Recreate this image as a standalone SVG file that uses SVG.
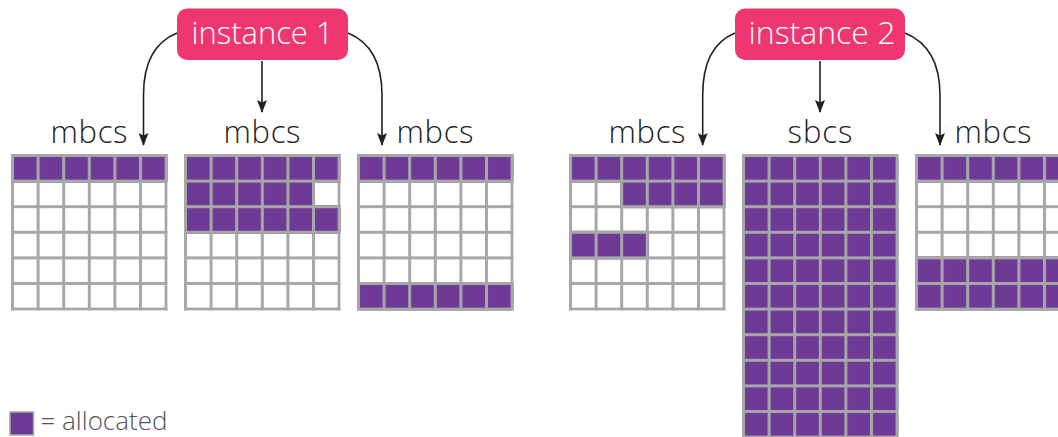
<svg xmlns="http://www.w3.org/2000/svg" width="1058" height="437" viewBox="0 0 1058 437">
<style>
.lbl{font-family:"Open Sans","Liberation Sans",sans-serif;font-weight:300;font-size:31px;fill:#231f20;text-anchor:middle}
.inst{font-family:"Open Sans","Liberation Sans",sans-serif;font-weight:300;font-size:32px;fill:#ffffff;text-anchor:middle}
.box{fill:#ee3670}
.conn{fill:none;stroke:#231f20;stroke-width:1.6}
.leg{font-family:"Open Sans","Liberation Sans",sans-serif;font-weight:300;font-size:26px;fill:#555555}
</style>
<defs>
<pattern id="wc" patternUnits="userSpaceOnUse" width="25.6" height="25.6">
<rect width="25.6" height="25.6" fill="#a7a7a7"/>
<rect x="3" y="3" width="22.6" height="22.6" fill="#ffffff"/>
</pattern>
<pattern id="pc" patternUnits="userSpaceOnUse" width="25.6" height="25.6">
<rect width="25.6" height="25.6" fill="#a7a7a7"/>
<rect x="3" y="3" width="22.6" height="22.6" fill="#6e3a96"/>
</pattern>
<marker id="ah" viewBox="0 0 13 10" refX="12" refY="5" markerWidth="13" markerHeight="10" markerUnits="userSpaceOnUse" orient="auto">
<path d="M0,0 L13,5 L0,10 L2.5,5 Z" fill="#231f20"/>
</marker>
</defs>

<g id="connectors">
<path class="conn" d="M177,33 C155,42 143.5,62 143.5,95 L143.5,145" marker-end="url(#ah)"/>
<path class="conn" d="M262,61 L262,112" marker-end="url(#ah)"/>
<path class="conn" d="M348,33 C370,42 382,62 382,95 L382,145" marker-end="url(#ah)"/>
<path class="conn" d="M735,33 C713,42 702.7,62 702.7,95 L702.7,145" marker-end="url(#ah)"/>
<path class="conn" d="M820,61 L820,112" marker-end="url(#ah)"/>
<path class="conn" d="M905,33 C927,42 940,62 940,95 L940,145" marker-end="url(#ah)"/>
</g>

<g id="instance1">
<rect class="box" x="177" y="8.5" width="171" height="51.5" rx="10"/>
<text class="inst" x="262.5" y="43.5" textLength="142" lengthAdjust="spacingAndGlyphs">instance 1</text>
</g>
<g id="instance2">
<rect class="box" x="735" y="8.5" width="170" height="51.5" rx="10"/>
<text class="inst" x="822" y="43.5" textLength="147" lengthAdjust="spacingAndGlyphs">instance 2</text>
</g>

<g id="grid1">
<text class="lbl" x="89" y="142.7" textLength="77" lengthAdjust="spacing">mbcs</text>
<g transform="translate(11,154)">
<rect width="156.6" height="156.6" fill="url(#wc)"/>
<rect width="156.6" height="28.6" fill="url(#pc)"/>
</g>
</g>

<g id="grid2">
<text class="lbl" x="262" y="142.7" textLength="77" lengthAdjust="spacing">mbcs</text>
<g transform="translate(184,154)">
<rect width="156.6" height="156.6" fill="url(#wc)"/>
<rect width="156.6" height="28.6" fill="url(#pc)"/>
<rect y="25.6" width="131" height="28.6" fill="url(#pc)"/>
<rect y="51.2" width="156.6" height="28.6" fill="url(#pc)"/>
</g>
</g>

<g id="grid3">
<text class="lbl" x="435" y="142.7" textLength="77" lengthAdjust="spacing">mbcs</text>
<g transform="translate(357,154)">
<rect width="156.6" height="156.6" fill="url(#wc)"/>
<rect width="156.6" height="28.6" fill="url(#pc)"/>
<rect y="128" width="156.6" height="28.6" fill="url(#pc)"/>
</g>
</g>

<g id="grid4">
<text class="lbl" x="647" y="142.7" textLength="77" lengthAdjust="spacing">mbcs</text>
<g transform="translate(569,154)">
<rect width="156.6" height="156.6" fill="url(#wc)"/>
<rect width="156.6" height="28.6" fill="url(#pc)"/>
<rect x="51.2" y="25.6" width="105.4" height="28.6" fill="url(#pc)"/>
<rect y="76.8" width="79.8" height="28.6" fill="url(#pc)"/>
</g>
</g>

<g id="grid5">
<text class="lbl" x="820" y="142.7" textLength="65" lengthAdjust="spacing">sbcs</text>
<g transform="translate(742,154)">
<rect width="156.6" height="284.6" fill="url(#pc)"/>
</g>
</g>

<g id="grid6">
<text class="lbl" x="993" y="142.7" textLength="77" lengthAdjust="spacing">mbcs</text>
<g transform="translate(915,154)">
<rect width="156.6" height="156.6" fill="url(#wc)"/>
<rect width="156.6" height="28.6" fill="url(#pc)"/>
<rect y="102.4" width="156.6" height="54.2" fill="url(#pc)"/>
</g>
</g>

<g id="legend">
<rect x="10" y="412" width="23.5" height="23" fill="#6e3a96" stroke="#a7a7a7" stroke-width="1.5"/>
<text class="leg" x="40.5" y="430">= allocated</text>
</g>
</svg>
